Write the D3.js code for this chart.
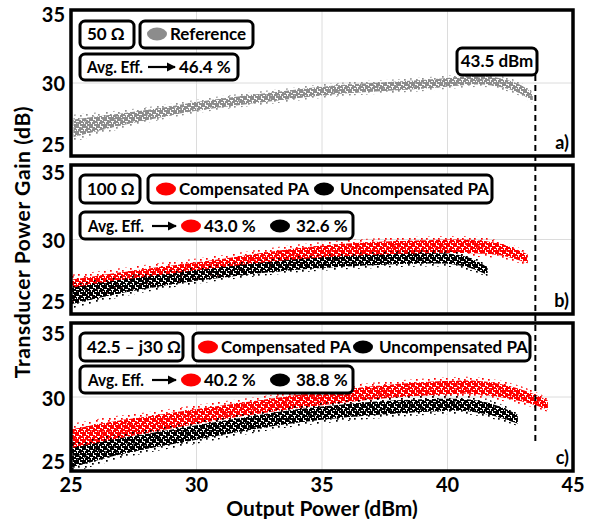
<!DOCTYPE html>
<html>
<head>
<meta charset="utf-8">
<script src="https://cdn.jsdelivr.net/npm/d3@7"></script>
<style>
body { margin: 0; background: #fff; }
text { font-family: Lato, "Open Sans", sans-serif; font-weight: bold; fill: #000; }
</style>
</head>
<body>
<svg id="chart" width="593" height="519"></svg>
<script>
// ---- data ----
var xTicks = [25, 30, 35, 40, 45];
var yTicks = [25, 30, 35];

// panel a) 50 ohm reference
var refPout   = [25.1, 26, 27, 28, 29, 30, 31, 32, 33, 34, 35, 36, 37, 38, 39, 40, 41, 41.6, 42.2, 42.7, 43.1, 43.4];
var refGain   = [26.9, 27.2, 27.5, 27.8, 28.1, 28.4, 28.65, 28.85, 29.05, 29.25, 29.45, 29.6, 29.7, 29.8, 29.9, 30.05, 30.2, 30.2, 30.0, 29.75, 29.4, 29.0];
var refSpread = [0.6, 0.5, 0.4, 0.35, 0.3, 0.3, 0.3, 0.3, 0.3, 0.3, 0.3, 0.3, 0.3, 0.3, 0.3, 0.3, 0.3, 0.3, 0.3, 0.3, 0.3, 0.25];

// panel b) 100 ohm
var compBPout   = [25, 26, 27, 28, 30, 32, 34, 36, 38, 40, 41, 42, 42.6, 43.2];
var compBGain   = [26.7, 27.0, 27.3, 27.55, 28.0, 28.5, 29.0, 29.3, 29.45, 29.55, 29.55, 29.4, 29.1, 28.7];
var compBSpread = [0.6, 0.55, 0.5, 0.5, 0.45, 0.45, 0.45, 0.45, 0.45, 0.45, 0.45, 0.4, 0.35, 0.3];
var uncBPout    = [25, 26, 27, 28, 30, 32, 34, 36, 38, 39.5, 40.3, 40.9, 41.3, 41.6];
var uncBGain    = [26.2, 26.55, 26.85, 27.1, 27.6, 28.0, 28.35, 28.55, 28.7, 28.75, 28.7, 28.45, 28.15, 27.85];
var uncBSpread  = [0.55, 0.5, 0.45, 0.4, 0.35, 0.35, 0.35, 0.35, 0.35, 0.35, 0.35, 0.35, 0.3, 0.25];

// panel c) 42.5 - j30 ohm
var compCPout   = [25, 26, 27, 28, 30, 32, 34, 36, 38, 40, 41, 42, 43, 43.6, 44];
var compCGain   = [27.1, 27.5, 27.85, 28.1, 28.7, 29.2, 29.7, 30.1, 30.45, 30.65, 30.7, 30.5, 30.1, 29.75, 29.45];
var compCSpread = [0.7, 0.65, 0.6, 0.55, 0.5, 0.45, 0.45, 0.45, 0.45, 0.45, 0.45, 0.45, 0.4, 0.35, 0.3];
var uncCPout    = [25, 26, 27, 28, 30, 32, 34, 36, 38, 40, 41, 41.8, 42.4, 42.8];
var uncCGain    = [25.9, 26.3, 26.7, 27.0, 27.6, 28.2, 28.75, 29.1, 29.35, 29.5, 29.45, 29.15, 28.8, 28.5];
var uncCSpread  = [0.65, 0.6, 0.55, 0.5, 0.5, 0.45, 0.45, 0.45, 0.45, 0.4, 0.4, 0.4, 0.35, 0.3];

var loads      = ["50 \u03A9", "100 \u03A9", "42.5 \u2013 j30 \u03A9"];
var effRef     = "46.4 %";
var effComp    = ["43.0 %", "40.2 %"];
var effUnc     = ["32.6 %", "38.8 %"];
var maxPout    = 43.5;

// ---- layout ----
var svg = d3.select("#chart");
var x = d3.scaleLinear().domain([25, 45]).range([71, 573]);

var panels = [
  {top: 10,  bottom: 156, tag: "a)", shift: [-11, 1, 5]},
  {top: 165, bottom: 314, tag: "b)", shift: [-12, 1, 8]},
  {top: 323, bottom: 471, tag: "c)", shift: [-9, 2, 11]}
];

function zip(p, g, w) {
  return p.map(function(v, i) { return {p: v, g: g[i], w: w[i]}; });
}

// speckle textures for the measured clouds
var defs = svg.append("defs");
function speckle(id, color, tile, dots, size) {
  var pat = defs.append("pattern").attr("id", id)
    .attr("patternUnits", "userSpaceOnUse")
    .attr("width", tile).attr("height", tile);
  dots.forEach(function(d) {
    pat.append("rect").attr("x", d[0]).attr("y", d[1])
      .attr("width", size).attr("height", size).attr("fill", color);
  });
}
var denseDots = [[0,0],[2,1],[5,0],[1,3],[4,2],[6,3],[3,5],[0,5],[5,5],[2,3]];
var sparseDots = [[0,0],[5,2],[2,6],[8,7],[6,10],[10,4],[1,10]];
[["gray", "#8c8c8c"], ["red", "#ff0000"], ["black", "#000000"]].forEach(function(c) {
  speckle("dense-" + c[0], c[1], 7, denseDots, 2);
  speckle("sparse-" + c[0], c[1], 12, sparseDots, 1.7);
});

function drawCloud(g, y, data, name) {
  var band = function(k) {
    return d3.area().curve(d3.curveBasis)
      .x(function(d) { return x(d.p); })
      .y0(function(d) { return y(d.g - d.w * k); })
      .y1(function(d) { return y(d.g + d.w * k); });
  };
  g.append("path").datum(data).attr("d", band(1.55)).attr("fill", "url(#sparse-" + name + ")");
  g.append("path").datum(data).attr("d", band(1)).attr("fill", "url(#dense-" + name + ")");
}

var clouds = [
  [[zip(refPout, refGain, refSpread), "gray"]],
  [[zip(compBPout, compBGain, compBSpread), "red"], [zip(uncBPout, uncBGain, uncBSpread), "black"]],
  [[zip(compCPout, compCGain, compCSpread), "red"], [zip(uncCPout, uncCGain, uncCSpread), "black"]]
];

panels.forEach(function(pn, i) {
  var y = d3.scaleLinear().domain([25, 35]).range([pn.bottom, pn.top]);
  var g = svg.append("g");

  defs.append("clipPath").attr("id", "clip" + i)
    .append("rect").attr("x", x(25)).attr("y", pn.top)
    .attr("width", x(45) - x(25)).attr("height", pn.bottom - pn.top);

  // grid
  g.selectAll(".vg").data([30, 35, 40]).enter().append("line")
    .attr("x1", function(d) { return x(d); }).attr("x2", function(d) { return x(d); })
    .attr("y1", pn.top).attr("y2", pn.bottom)
    .attr("stroke", "#dcdcdc").attr("stroke-width", 1);
  g.append("line").attr("x1", x(25)).attr("x2", x(45))
    .attr("y1", y(30)).attr("y2", y(30))
    .attr("stroke", "#dcdcdc").attr("stroke-width", 1);

  var cg = g.append("g").attr("clip-path", "url(#clip" + i + ")");
  clouds[i].forEach(function(c) { drawCloud(cg, y, c[0], c[1]); });

  // frame
  g.append("rect").attr("x", x(25)).attr("y", pn.top)
    .attr("width", x(45) - x(25)).attr("height", pn.bottom - pn.top)
    .attr("fill", "none").attr("stroke", "#000").attr("stroke-width", 3.5);

  // y tick labels
  g.selectAll(".yt").data(yTicks).enter().append("text")
    .attr("x", 65).attr("y", function(d, k) { return y(d) + 7 + pn.shift[k]; })
    .attr("text-anchor", "end").attr("font-size", 20)
    .text(function(d) { return d; });

  g.append("text").attr("x", 569).attr("y", pn.bottom - 7)
    .attr("text-anchor", "end").attr("font-size", 18).text(pn.tag);
});

// x ticks and titles
svg.selectAll(".xt").data(xTicks).enter().append("text")
  .attr("x", function(d) { return x(d); }).attr("y", 492)
  .attr("text-anchor", "middle").attr("font-size", 20)
  .text(function(d) { return d; });
svg.append("text").attr("x", 322).attr("y", 516)
  .attr("text-anchor", "middle").attr("font-size", 21).text("Output Power (dBm)");
svg.append("text").attr("transform", "translate(30,242) rotate(-90)")
  .attr("text-anchor", "middle").attr("font-size", 21).attr("letter-spacing", 0.6)
  .text("Transducer Power Gain (dB)");

// max output power marker
svg.append("line").attr("x1", x(maxPout)).attr("x2", x(maxPout))
  .attr("y1", 75).attr("y2", 442)
  .attr("stroke", "#000").attr("stroke-width", 2).attr("stroke-dasharray", "6,4");

// ---- legend boxes ----
defs.append("marker").attr("id", "arrow").attr("viewBox", "0 0 10 10")
  .attr("refX", 9).attr("refY", 5).attr("markerWidth", 4.2).attr("markerHeight", 4.2)
  .attr("orient", "auto")
  .append("path").attr("d", "M0,0 L10,5 L0,10 z").attr("fill", "#000");

function box(bx, by, bw, bh) {
  svg.append("rect").attr("x", bx).attr("y", by).attr("width", bw).attr("height", bh)
    .attr("rx", 5).attr("fill", "#fff").attr("stroke", "#000").attr("stroke-width", 3);
}
function label(tx, ty, s, anchor, len) {
  var t = svg.append("text").attr("x", tx).attr("y", ty).attr("font-size", 17)
    .attr("text-anchor", anchor || "start").text(s);
  if (len) t.attr("textLength", len).attr("lengthAdjust", "spacingAndGlyphs");
}
function dot(cx, cy, color) {
  svg.append("ellipse").attr("cx", cx).attr("cy", cy).attr("rx", 10).attr("ry", 6.5).attr("fill", color);
}
function arrow(x1, x2, ay) {
  svg.append("line").attr("x1", x1).attr("x2", x2).attr("y1", ay).attr("y2", ay)
    .attr("stroke", "#000").attr("stroke-width", 2.2).attr("marker-end", "url(#arrow)");
}

// a)
box(80, 21, 54, 27);  label(87, 40, loads[0]);
box(140, 21, 113, 27); dot(157, 34, "#8c8c8c"); label(170, 40, "Reference");
box(80, 54, 158, 26); label(87, 73, "Avg. Eff.", "start", 56); arrow(148, 175, 67); label(179, 73, effRef);
box(457, 48, 80, 27); label(497, 67, maxPout + " dBm", "middle");

// b) and c)
var legY = [175, 333];
var effY = [212, 366];
var loadW = [60, 103];
var serBox = [[148, 344], [193, 337]];
var serDot = [[166, 324], [208, 363]];
var serTxt = [[179, 340], [221, 379]];
[0, 1].forEach(function(k) {
  var ly = legY[k], ey = effY[k];
  box(80, ly, loadW[k], 28); label(87, ly + 20, loads[k + 1]);
  box(serBox[k][0], ly, serBox[k][1], 28);
  dot(serDot[k][0], ly + 14, "#ff0000"); label(serTxt[k][0], ly + 20, "Compensated PA");
  dot(serDot[k][1], ly + 14, "#000"); label(serTxt[k][1], ly + 20, "Uncompensated PA");
  box(80, ey, 273, 27);
  label(88, ey + 20, "Avg. Eff.", "start", 56); arrow(152, 176, ey + 14);
  dot(191, ey + 14, "#ff0000"); label(204, ey + 20, effComp[k]);
  dot(280, ey + 14, "#000"); label(296, ey + 20, effUnc[k]);
});
</script>
</body>
</html>
